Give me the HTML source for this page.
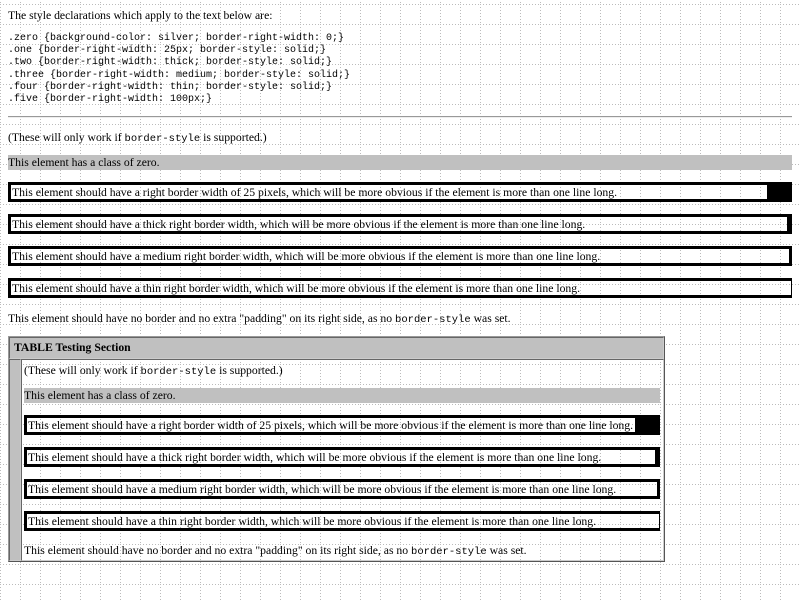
<!DOCTYPE html>
<html><head><style>
body{margin:0;width:800px;height:600px;position:relative;overflow:hidden;background:#fff;font-family:"Liberation Serif",serif;font-size:11.7px;color:#000}
.a{position:absolute;white-space:nowrap;line-height:15px}
pre{position:absolute;margin:0;font-family:"Liberation Mono",monospace;font-size:10px;line-height:12.2px}
code{font-family:"Liberation Mono",monospace;font-size:10.5px}
.b{position:absolute;box-sizing:border-box;border:3px solid #000;padding-left:1px;line-height:15px;white-space:nowrap}
.z{position:absolute;background:silver;line-height:14px;white-space:nowrap;padding-top:1px;height:14px}
svg.g{position:absolute;left:0;top:0}
</style></head><body>
<svg class="g" width="800" height="600"><defs><pattern id="p" width="20" height="20" patternUnits="userSpaceOnUse" x="0" y="4"><line x1="0.5" y1="0" x2="0.5" y2="20" stroke="#bbb" stroke-dasharray="1,2"/><line x1="0" y1="0.5" x2="20" y2="0.5" stroke="#bbb" stroke-dasharray="1,2"/></pattern></defs><rect width="800" height="600" fill="url(#p)"/></svg>
<div class="a" style="left:8px;top:8px">The style declarations which apply to the text below are:</div>
<pre style="left:8px;top:33px">.zero {background-color: silver; border-right-width: 0;}
.one {border-right-width: 25px; border-style: solid;}
.two {border-right-width: thick; border-style: solid;}
.three {border-right-width: medium; border-style: solid;}
.four {border-right-width: thin; border-style: solid;}
.five {border-right-width: 100px;}</pre>
<div style="position:absolute;left:8px;top:116px;width:784px;height:0;border-top:1px solid #999;border-bottom:1px solid #eee"></div>
<div class="a" style="left:8px;top:130px">(These will only work if <code>border-style</code> is supported.)</div>
<div class="z" style="left:8px;top:155px;width:784px">This element has a class of zero.</div>
<div class="b" style="left:8px;top:182px;width:784px;height:20px;border-right-width:25px">This element should have a right border width of 25 pixels, which will be more obvious if the element is more than one line long.</div>
<div class="b" style="left:8px;top:214px;width:784px;height:20px;border-right-width:5px">This element should have a thick right border width, which will be more obvious if the element is more than one line long.</div>
<div class="b" style="left:8px;top:246px;width:784px;height:20px">This element should have a medium right border width, which will be more obvious if the element is more than one line long.</div>
<div class="b" style="left:8px;top:278px;width:784px;height:20px;border-right-width:1px">This element should have a thin right border width, which will be more obvious if the element is more than one line long.</div>
<div class="a" style="left:8px;top:311px">This element should have no border and no extra "padding" on its right side, as no <code>border-style</code> was set.</div>
<div style="position:absolute;left:8px;top:336px;width:657px;height:226px;box-sizing:border-box;border:1px solid #999;border-right-color:#555;border-bottom-color:#555"></div>
<div style="position:absolute;left:9px;top:337px;width:655px;height:22px;box-sizing:border-box;background:silver;border:1px solid #666;border-bottom-color:#ccc;border-right-color:#ccc;font-weight:bold;line-height:20px;padding-left:4px">TABLE Testing Section</div>
<div style="position:absolute;left:9px;top:359px;width:12px;height:202px;box-sizing:border-box;background:silver;border:1px solid #666;border-bottom-color:#ccc;border-right-color:#ccc"></div>
<div style="position:absolute;left:21px;top:359px;width:643px;height:202px;box-sizing:border-box;border:1px solid #666;border-bottom-color:#ccc;border-right-color:#ccc"></div>
<div class="a" style="left:24px;top:363px">(These will only work if <code>border-style</code> is supported.)</div>
<div class="z" style="left:24px;top:388px;width:636px">This element has a class of zero.</div>
<div class="b" style="left:24px;top:415px;width:636px;height:20px;border-right-width:25px">This element should have a right border width of 25 pixels, which will be more obvious if the element is more than one line long.</div>
<div class="b" style="left:24px;top:447px;width:636px;height:20px;border-right-width:5px">This element should have a thick right border width, which will be more obvious if the element is more than one line long.</div>
<div class="b" style="left:24px;top:479px;width:636px;height:20px">This element should have a medium right border width, which will be more obvious if the element is more than one line long.</div>
<div class="b" style="left:24px;top:511px;width:636px;height:20px;border-right-width:1px">This element should have a thin right border width, which will be more obvious if the element is more than one line long.</div>
<div class="a" style="left:24px;top:543px">This element should have no border and no extra "padding" on its right side, as no <code>border-style</code> was set.</div>
</body></html>
